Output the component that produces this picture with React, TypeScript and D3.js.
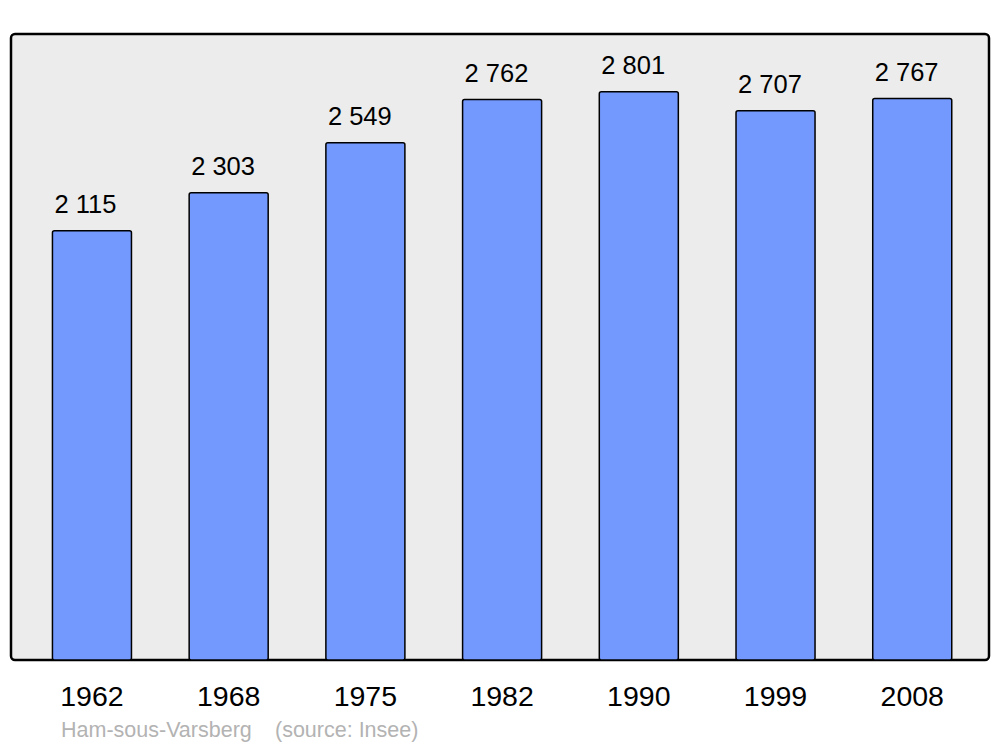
import React from "react";
import * as d3 from "d3";

const years = ["1962", "1968", "1975", "1982", "1990", "1999", "2008"];
const population = [2115, 2303, 2549, 2762, 2801, 2707, 2767];
const commune = "Ham-sous-Varsberg";
const source = "(source: Insee)";

const W = 1000;
const H = 747;
const frame = { x: 11, y: 34, w: 978, h: 626 };

const fmt = (v: number) => {
  const s = String(v);
  return s.length > 3 ? s.slice(0, s.length - 3) + " " + s.slice(-3) : s;
};

export default function App() {
  const x = d3
    .scaleBand<string>()
    .domain(years)
    .range([23.6, 980.6])
    .paddingInner(0.422)
    .paddingOuter(0.211);
  const y = d3.scaleLinear().domain([0, 3085]).range([frame.y + frame.h, frame.y]);
  const font = "'Liberation Sans', Arial, sans-serif";

  return (
    <svg
      width={W}
      height={H}
      style={{ position: "absolute", left: 0, top: 0, background: "#ffffff" }}
      fontFamily={font}
    >
      <rect
        x={frame.x}
        y={frame.y}
        width={frame.w}
        height={frame.h}
        rx={4}
        fill="#ececec"
        stroke="#000"
        strokeWidth={2.5}
      />
      {years.map((yr, i) => {
        const bx = x(yr)!;
        const by = y(population[i]);
        return (
          <g key={yr}>
            <rect
              x={bx}
              y={by}
              width={x.bandwidth()}
              height={y(0) - by}
              rx={2}
              fill="#7399ff"
              stroke="#000"
              strokeWidth={1.5}
            />
            <text x={bx + 2} y={by - 18} fontSize={25.5} fill="#000">
              {fmt(population[i])}
            </text>
            <text
              x={bx + x.bandwidth() / 2}
              y={706}
              fontSize={28.5}
              textAnchor="middle"
              fill="#000"
            >
              {yr}
            </text>
          </g>
        );
      })}
      <text x={61} y={737} fontSize={21.5} fill="#b3b3b3">
        {commune}
      </text>
      <text x={275} y={737} fontSize={21.5} fill="#b3b3b3">
        {source}
      </text>
    </svg>
  );
}
